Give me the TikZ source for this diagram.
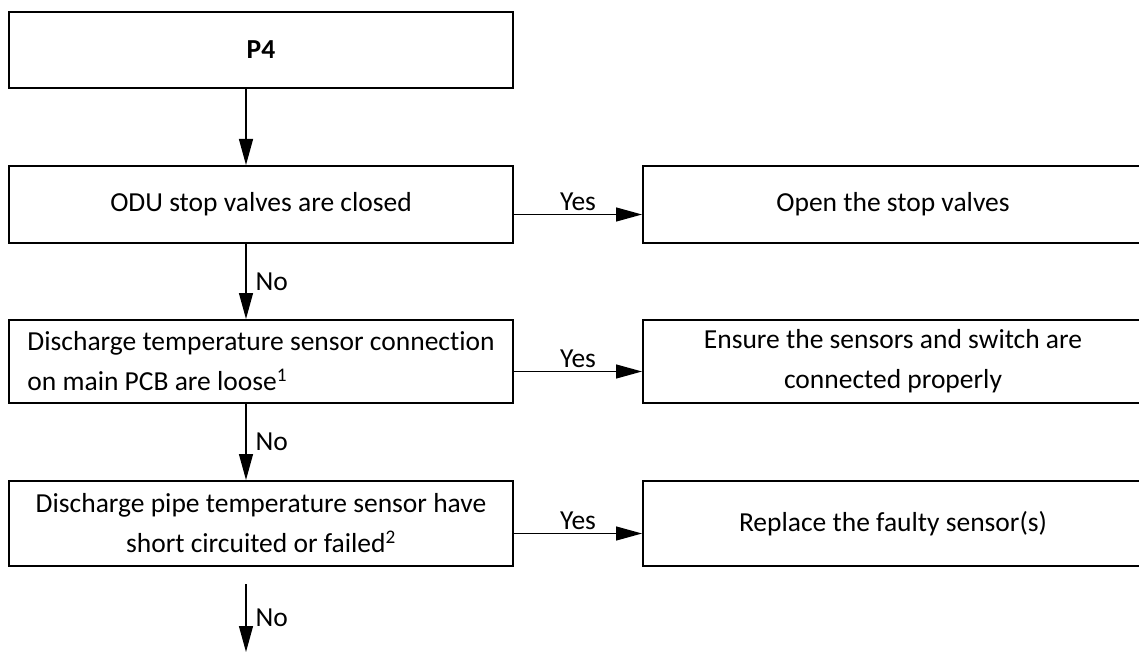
\documentclass[tikz,border=0pt]{standalone}
\usepackage{fontspec}
\setmainfont{Carlito}[Ligatures={NoCommon}]
\usetikzlibrary{arrows.meta,calc}
\begin{document}
\begin{tikzpicture}[x=1pt,y=1pt,
  every node/.style={font=\fontsize{27.5}{40}\selectfont},
  leftbox/.style={draw, line width=2pt, minimum width=504pt, inner sep=0pt, align=center},
  rightbox/.style={draw, line width=2pt, minimum width=500pt, inner sep=0pt, align=center},
  arr/.style={line width=1.3pt, -{Triangle[length=26pt,width=14pt]}},
  lbl/.style={inner sep=3pt}
]
\useasboundingbox (0,0) rectangle (1139,-652);
\coordinate (ax) at (246,0);
\node[leftbox, minimum height=76pt] (p4) at (261,-50) {\textbf{P4}};
\node[leftbox, minimum height=77pt] (odu) at (261,-204.5) {ODU stop valves are closed};
\node[leftbox, minimum height=83pt, align=left] (conn) at (261,-361.5) {Discharge temperature sensor connection\\on main PCB are loose\textsuperscript{1}};
\node[leftbox, minimum height=85pt] (pipe) at (261,-523.5) {Discharge pipe temperature sensor have\\short circuited or failed\textsuperscript{2}};
\node[rightbox, minimum height=77pt] (open) at (893,-204.5) {Open the stop valves};
\node[rightbox, minimum height=83pt] (ensure) at (893,-361.5) {Ensure the sensors and switch are\\connected properly};
\node[rightbox, minimum height=85pt] (repl) at (893,-523.5) {Replace the faulty sensor(s)};
\coordinate (s5) at (246,-584);
\coordinate (e5) at (246,-652);
\draw[arr] (p4.south -| ax) -- (odu.north -| ax);
\draw[arr] (odu.south -| ax) -- node[lbl, anchor=west, xshift=6pt] {No} (conn.north -| ax);
\draw[arr] (conn.south -| ax) -- node[lbl, anchor=west, xshift=6pt] {No} (pipe.north -| ax);
\draw[arr] (s5) -- node[lbl, anchor=west, xshift=6pt] {No} (e5);
\draw[arr] ([yshift=-10pt]odu.east) -- node[lbl, above] {Yes} ([yshift=-10pt]odu.east -| open.west);
\draw[arr] ([yshift=-10pt]conn.east) -- node[lbl, above] {Yes} ([yshift=-10pt]conn.east -| ensure.west);
\draw[arr] ([yshift=-10pt]pipe.east) -- node[lbl, above] {Yes} ([yshift=-10pt]pipe.east -| repl.west);
\end{tikzpicture}
\end{document}
